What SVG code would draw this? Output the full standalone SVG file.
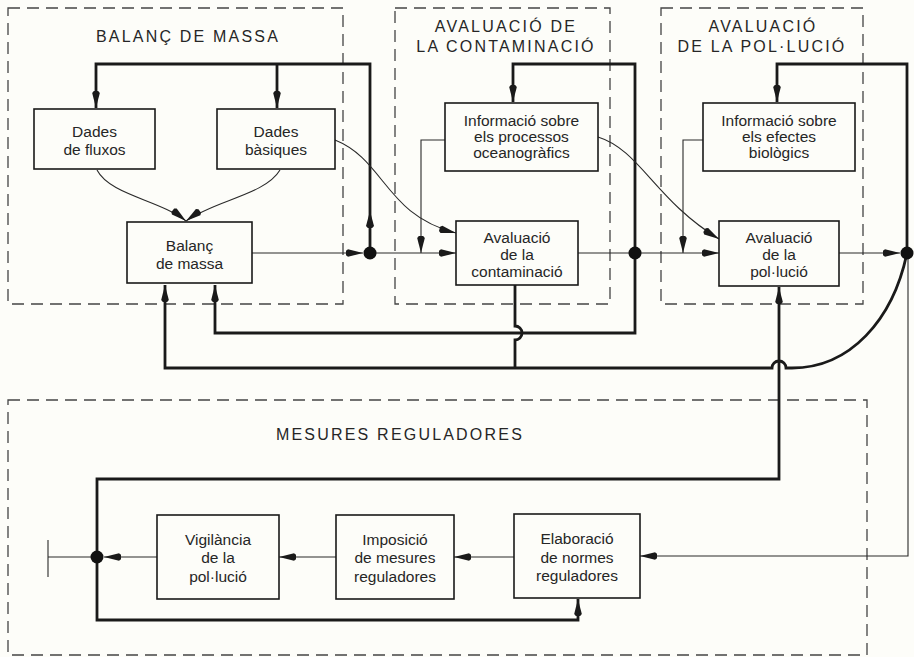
<svg xmlns="http://www.w3.org/2000/svg" width="914" height="657" viewBox="0 0 914 657">
  <defs>
    <marker id="arr" viewBox="-21 -5 22 10" markerWidth="22" markerHeight="10" refX="0" refY="0" orient="auto" markerUnits="userSpaceOnUse" overflow="visible">
      <path d="M0,0 L-15,-3.8 L-17,-2.2 L-17,2.2 L-15,3.8 Z" fill="#1a1a1a"/>
    </marker>
    <style>
      .bg { fill: #fdfdf9; }
      .zone { fill: none; stroke: #444; stroke-width: 1.3; stroke-dasharray: 12 7; }
      .box { fill: #fdfdf9; stroke: #1a1a1a; stroke-width: 1.6; }
      .t { font-family: "Liberation Sans", Arial, sans-serif; font-size: 15.5px; fill: #262626; text-anchor: middle; }
      .title { font-family: "Liberation Sans", Arial, sans-serif; font-size: 16px; fill: #262626; text-anchor: middle; letter-spacing: 2.2px; }
      .thick { fill: none; stroke: #1a1a1a; stroke-width: 2.8; stroke-linejoin: miter; }
      .thin { fill: none; stroke: #2a2a2a; stroke-width: 1.1; }
      .dot { fill: #111; }
      .ah { fill: #1a1a1a; }
    </style>
  </defs>
  <rect class="bg" x="0" y="0" width="914" height="657"/>

  <g id="zones">
    <rect class="zone" x="8" y="8" width="335" height="296"/>
    <rect class="zone" x="395" y="8" width="215" height="296"/>
    <rect class="zone" x="661" y="8" width="202" height="296"/>
    <rect class="zone" x="8" y="400" width="859" height="255"/>
    <text class="title" x="188" y="42">BALANÇ DE MASSA</text>
    <text class="title" x="506" y="32">AVALUACIÓ DE</text>
    <text class="title" x="506" y="52">LA CONTAMINACIÓ</text>
    <text class="title" x="763" y="32">AVALUACIÓ</text>
    <text class="title" x="762" y="52">DE LA POL·LUCIÓ</text>
    <text class="title" x="400" y="440">MESURES REGULADORES</text>
  </g>

  <g id="connectors">
    <!-- top bus of mass balance -->
    <path class="thick" d="M370 253 V64 H96 V108" marker-end="url(#arr)"/>
    <path class="thick" d="M277 64 V108" marker-end="url(#arr)"/>
    <path class="ah" d="M370 211 L366 226 L367.8 228 L372.2 228 L374 226 Z"/>
    <!-- loop 2 -->
    <path class="thick" d="M635 253 V64 H513 V102" marker-end="url(#arr)"/>
    <path class="thick" d="M635 253 V333 H215 V285" marker-end="url(#arr)"/>
    <!-- contamination output down with hop -->
    <path class="thick" d="M515 285 V326 A7 7 0 0 1 515 340 V368"/>
    <!-- lower return line with hop and curve -->
    <path class="thick" d="M907 253 C893 320 850 368 792 368 H786 A7 7 0 0 0 772 368 H165 V285" marker-end="url(#arr)"/>
    <!-- loop 3 -->
    <path class="thick" d="M907 253 V64 H777 V102" marker-end="url(#arr)"/>
    <!-- regulatory loop -->
    <path class="thick" d="M97 557 V479 H779 V287" marker-end="url(#arr)"/>
    <path class="thick" d="M97 557 V620 H578 V599" marker-end="url(#arr)"/>

    <!-- thin flows -->
    <path class="thin" d="M252 253 H363" marker-end="url(#arr)"/>
    <path class="thin" d="M376 253 H456" marker-end="url(#arr)"/>
    <path class="thin" d="M445 140 H421 V253" marker-end="url(#arr)"/>
    <path class="thin" d="M578 253 H635"/>
    <path class="thin" d="M641 253 H719" marker-end="url(#arr)"/>
    <path class="thin" d="M703 140 H683 V253" marker-end="url(#arr)"/>
    <path class="thin" d="M839 253 H900" marker-end="url(#arr)"/>
    <path class="thin" d="M97 170 C110 195 160 200 186 221" marker-end="url(#arr)"/>
    <path class="thin" d="M280 170 C265 195 215 200 186 221" marker-end="url(#arr)"/>
    <path class="thin" d="M335 140 C385 160 385 215 456 233" marker-end="url(#arr)"/>
    <path class="thin" d="M598 137 C640 150 655 200 719 239" marker-end="url(#arr)"/>
    <path class="thin" d="M908 253 V556 H640" marker-end="url(#arr)"/>
    <path class="thin" d="M514 557 H454" marker-end="url(#arr)"/>
    <path class="thin" d="M336 557 H279" marker-end="url(#arr)"/>
    <path class="thin" d="M157 557 H104" marker-end="url(#arr)"/>
    <path class="thin" d="M97 557 H48 M48 540 V577"/>

    <!-- junctions -->
    <circle class="dot" cx="370" cy="253" r="6.5"/>
    <circle class="dot" cx="635" cy="253" r="6.5"/>
    <circle class="dot" cx="907" cy="253" r="6.5"/>
    <circle class="dot" cx="97" cy="557" r="6.5"/>
  </g>

  <g id="dades-fluxos">
    <rect class="box" x="34" y="109" width="121" height="60"/>
    <text class="t" x="94.5" y="137">Dades</text>
    <text class="t" x="94.5" y="155">de fluxos</text>
  </g>
  <g id="dades-basiques">
    <rect class="box" x="217" y="109" width="118" height="60"/>
    <text class="t" x="276" y="137">Dades</text>
    <text class="t" x="276" y="155">bàsiques</text>
  </g>
  <g id="balanc-massa">
    <rect class="box" x="127" y="222" width="125" height="61"/>
    <text class="t" x="189.5" y="251">Balanç</text>
    <text class="t" x="189.5" y="269">de massa</text>
  </g>
  <g id="info-oceanografics">
    <rect class="box" x="445" y="103" width="153" height="68"/>
    <text class="t" x="521.5" y="126">Informació sobre</text>
    <text class="t" x="521.5" y="142">els processos</text>
    <text class="t" x="521.5" y="158">oceanogràfics</text>
  </g>
  <g id="avaluacio-contaminacio">
    <rect class="box" x="456" y="221" width="122" height="64"/>
    <text class="t" x="517" y="243">Avaluació</text>
    <text class="t" x="517" y="260">de la</text>
    <text class="t" x="517" y="277">contaminació</text>
  </g>
  <g id="info-biologics">
    <rect class="box" x="703" y="103" width="152" height="68"/>
    <text class="t" x="779" y="126">Informació sobre</text>
    <text class="t" x="779" y="142">els efectes</text>
    <text class="t" x="779" y="158">biològics</text>
  </g>
  <g id="avaluacio-pollucio">
    <rect class="box" x="719" y="221" width="120" height="65"/>
    <text class="t" x="779" y="243">Avaluació</text>
    <text class="t" x="779" y="260">de la</text>
    <text class="t" x="779" y="277">pol·lució</text>
  </g>
  <g id="vigilancia">
    <rect class="box" x="157" y="515" width="122" height="84"/>
    <text class="t" x="218" y="545">Vigilància</text>
    <text class="t" x="218" y="563">de la</text>
    <text class="t" x="218" y="582">pol·lució</text>
  </g>
  <g id="imposicio">
    <rect class="box" x="336" y="515" width="118" height="84"/>
    <text class="t" x="395" y="545">Imposició</text>
    <text class="t" x="395" y="563">de mesures</text>
    <text class="t" x="395" y="582">reguladores</text>
  </g>
  <g id="elaboracio">
    <rect class="box" x="514" y="514" width="126" height="84"/>
    <text class="t" x="577" y="544">Elaboració</text>
    <text class="t" x="577" y="563">de normes</text>
    <text class="t" x="577" y="581">reguladores</text>
  </g>
</svg>
